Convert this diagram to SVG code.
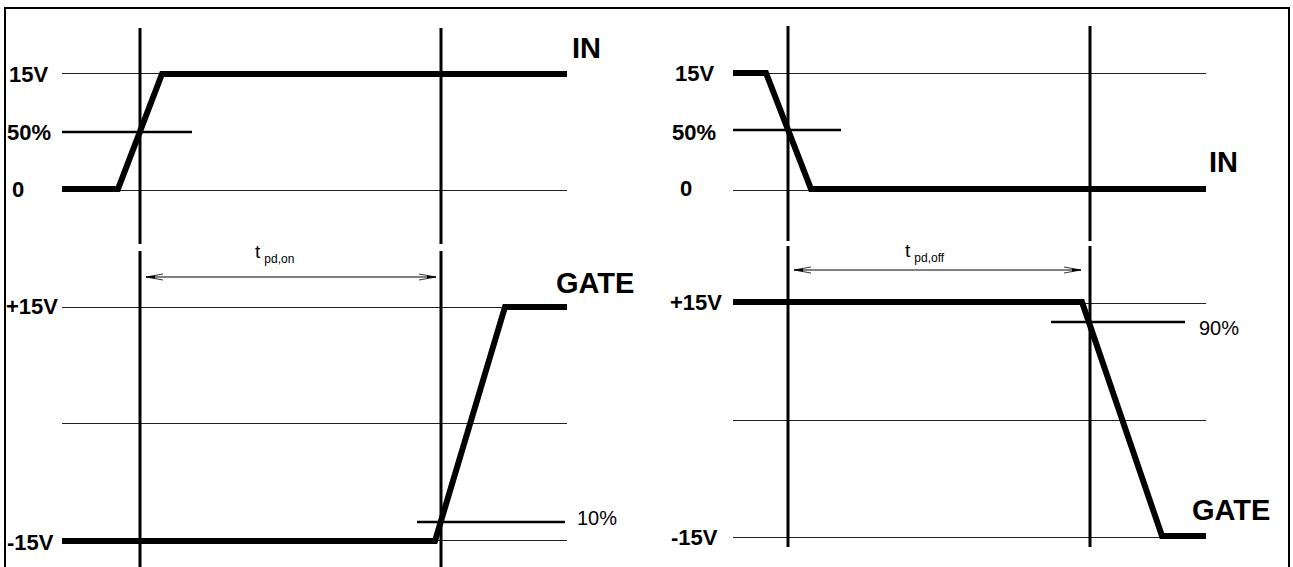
<svg xmlns="http://www.w3.org/2000/svg" width="1293" height="567" viewBox="0 0 1293 567">
<defs>
<style>
.frame{fill:none;stroke:#000;stroke-width:2}
.grid{stroke:#222;stroke-width:1;fill:none}
.vert{stroke:#000;stroke-width:3;fill:none}
.mark{stroke:#000;stroke-width:2.5;fill:none}
.sig{stroke:#000;stroke-width:6;fill:none;stroke-linejoin:miter}
.dim{stroke:#000;stroke-width:1;fill:none}
.lbl{font-family:"Liberation Sans",Arial,sans-serif;font-weight:bold;font-size:22px;fill:#000}
.big{font-family:"Liberation Sans",Arial,sans-serif;font-weight:bold;font-size:29px;fill:#000}
.pct{font-family:"Liberation Sans",Arial,sans-serif;font-size:20px;fill:#000}
.t{font-family:"Liberation Sans",Arial,sans-serif;font-size:19px;fill:#000}
.sub{font-family:"Liberation Sans",Arial,sans-serif;font-size:12px;fill:#000}
</style>
<marker id="arr" markerWidth="20" markerHeight="10" refX="20" refY="5" orient="auto-start-reverse" markerUnits="userSpaceOnUse" viewBox="0 0 20 10">
<path d="M20,5 L11,3.5 L11,6.5 Z" fill="#000"/>
<path d="M20,5 L3,2 M20,5 L3,8" stroke="#000" stroke-width="0.8" fill="none"/>
</marker>
</defs>
<rect width="1293" height="567" fill="#fff"/>
<rect class="frame" x="5" y="8" width="1284" height="580"/>

<g id="left-panel">
<g id="left-grid">
<line class="grid" x1="62" y1="73.5" x2="567" y2="73.5"/>
<line class="grid" x1="62" y1="190.5" x2="567" y2="190.5"/>
<line class="grid" x1="62" y1="307.5" x2="567" y2="307.5"/>
<line class="grid" x1="62" y1="423.5" x2="567" y2="423.5"/>
<line class="grid" x1="62" y1="540.5" x2="567" y2="540.5"/>
</g>
<g id="left-markers">
<line class="vert" x1="140" y1="28" x2="140" y2="244"/>
<line class="vert" x1="140" y1="251" x2="140" y2="567"/>
<line class="vert" x1="441" y1="28" x2="441" y2="244"/>
<line class="vert" x1="441" y1="251" x2="441" y2="567"/>
<line class="mark" x1="62" y1="132" x2="192" y2="132"/>
<line class="mark" x1="417" y1="522" x2="565" y2="522"/>
</g>
<g id="left-in">
<polyline class="sig" points="62,189 118,189 162,74 567,74"/>
<text class="big" x="572" y="58">IN</text>
</g>
<g id="left-gate">
<polyline class="sig" points="62,541 435,541 505,307 567,307"/>
<text class="big" x="556" y="293">GATE</text>
</g>
<g id="left-labels">
<text class="lbl" x="9" y="82">15V</text>
<text class="lbl" x="7" y="140">50%</text>
<text class="lbl" x="12" y="197">0</text>
<text class="lbl" x="6" y="314">+15V</text>
<text class="lbl" x="7" y="550">-15V</text>
<text class="pct" x="577" y="525">10%</text>
</g>
</g>

<g id="right-panel">
<g id="right-grid">
<line class="grid" x1="733" y1="73.5" x2="1206" y2="73.5"/>
<line class="grid" x1="733" y1="190.5" x2="1206" y2="190.5"/>
<line class="grid" x1="733" y1="303.5" x2="1206" y2="303.5"/>
<line class="grid" x1="733" y1="420.5" x2="1206" y2="420.5"/>
<line class="grid" x1="733" y1="537.5" x2="1206" y2="537.5"/>
</g>
<g id="right-markers">
<line class="vert" x1="788" y1="26" x2="788" y2="241"/>
<line class="vert" x1="788" y1="246" x2="788" y2="547"/>
<line class="vert" x1="1090" y1="26" x2="1090" y2="241"/>
<line class="vert" x1="1090" y1="246" x2="1090" y2="547"/>
<line class="mark" x1="733" y1="130" x2="841" y2="130"/>
<line class="mark" x1="1051" y1="322" x2="1185" y2="322"/>
</g>
<g id="right-in">
<polyline class="sig" points="733,73 766,73 811,189 1206,189"/>
<text class="big" x="1209" y="172">IN</text>
</g>
<g id="right-gate">
<polyline class="sig" points="733,302 1082,302 1162,536 1206,536"/>
<text class="big" x="1192" y="520">GATE</text>
</g>
<g id="right-labels">
<text class="lbl" x="675" y="81">15V</text>
<text class="lbl" x="672" y="140">50%</text>
<text class="lbl" x="680" y="196">0</text>
<text class="lbl" x="670" y="310">+15V</text>
<text class="lbl" x="671" y="545">-15V</text>
<text class="pct" x="1199" y="335">90%</text>
</g>
</g>

<g id="connectors">
<line class="dim" x1="146" y1="277" x2="436" y2="277" marker-start="url(#arr)" marker-end="url(#arr)"/>
<line class="dim" x1="794" y1="270" x2="1081" y2="270" marker-start="url(#arr)" marker-end="url(#arr)"/>
</g>
<g id="dimension-labels">
<text class="t" x="255" y="258">t<tspan class="sub" dx="4" dy="5">pd,on</tspan></text>
<text class="t" x="905" y="257">t<tspan class="sub" dx="4" dy="5">pd,off</tspan></text>
</g>
</svg>
